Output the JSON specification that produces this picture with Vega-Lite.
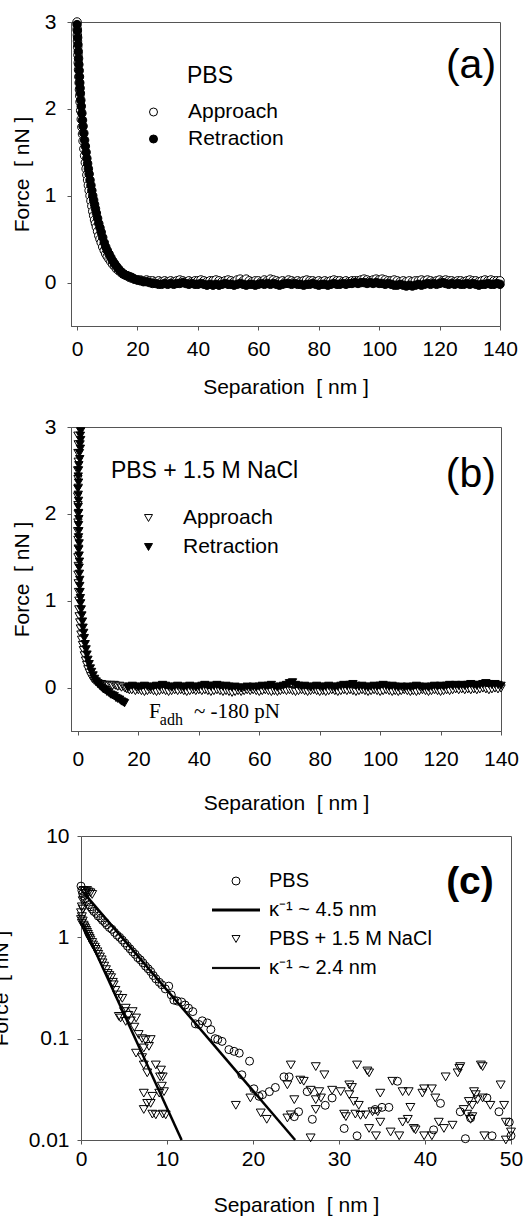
{
"$schema": "https://vega.github.io/schema/vega-lite/v6.json",
"padding": {"left": -10, "top": 10, "right": 0, "bottom": 0},
"background": "white",
"config": {
  "font": "Liberation Sans",
  "view": {"stroke": "#555", "strokeWidth": 1},
  "axis": {"grid": false, "domainColor": "#555", "tickColor": "#555", "tickSize": 4, "labelFontSize": 21, "titleFontSize": 21, "labelColor": "black", "titleColor": "black", "titleFontWeight": "normal", "labelFont": "Liberation Sans", "titleFont": "Liberation Sans", "labelFlush": false, "labelOverlap": false},
  "legend": {"labelFontSize": 21, "labelFont": "Liberation Sans", "labelColor": "black", "padding": 0, "labelLimit": 0}
},
"datasets": {
"aA": [{"x":0,"y":3.0},{"x":0.05,"y":2.92},{"x":0.1,"y":2.85},{"x":0.15,"y":2.78},{"x":0.2,"y":2.71},{"x":0.3,"y":2.62},{"x":0.4,"y":2.53},{"x":0.5,"y":2.45},{"x":0.6,"y":2.37},{"x":0.7,"y":2.3},{"x":0.8,"y":2.22},{"x":0.9,"y":2.15},{"x":1.0,"y":2.08},{"x":1.2,"y":1.98},{"x":1.4,"y":1.88},{"x":1.6,"y":1.79},{"x":1.8,"y":1.71},{"x":2.0,"y":1.63},{"x":2.25,"y":1.54},{"x":2.5,"y":1.46},{"x":2.75,"y":1.38},{"x":3.0,"y":1.31},{"x":3.25,"y":1.24},{"x":3.5,"y":1.18},{"x":3.75,"y":1.12},{"x":4.0,"y":1.06},{"x":4.3,"y":1.0},{"x":4.6,"y":0.94},{"x":4.9,"y":0.88},{"x":5.2,"y":0.82},{"x":5.5,"y":0.77},{"x":5.8,"y":0.72},{"x":6.1,"y":0.68},{"x":6.4,"y":0.64},{"x":6.8,"y":0.59},{"x":7.2,"y":0.54},{"x":7.6,"y":0.5},{"x":8.0,"y":0.46},{"x":8.5,"y":0.41},{"x":9.0,"y":0.37},{"x":9.5,"y":0.33},{"x":10.0,"y":0.3},{"x":10.6,"y":0.27},{"x":11.2,"y":0.24},{"x":11.8,"y":0.21},{"x":12.4,"y":0.19},{"x":13.0,"y":0.16},{"x":13.7,"y":0.14},{"x":14.4,"y":0.12},{"x":15.1,"y":0.1},{"x":15.8,"y":0.09},{"x":16.5,"y":0.08},{"x":17.3,"y":0.06},{"x":18.1,"y":0.05},{"x":19.0,"y":0.04},{"x":20.0,"y":0.03},
{"x":21,"y":0.03},{"x":22,"y":0.02},{"x":23,"y":0.03},{"x":24,"y":0.02},{"x":25,"y":0.02},{"x":26,"y":0.01},{"x":27,"y":0.02},{"x":28,"y":0.01},{"x":29,"y":0.02},{"x":30,"y":0.01},{"x":31,"y":0.02},{"x":32,"y":0.01},{"x":33,"y":0.02},{"x":34,"y":0.03},{"x":35,"y":0.02},{"x":36,"y":0.01},{"x":37,"y":0.02},{"x":38,"y":0.01},{"x":39,"y":0.02},{"x":40,"y":0.02},{"x":41,"y":0.03},{"x":42,"y":0.02},{"x":43,"y":0.01},{"x":44,"y":0.02},{"x":45,"y":0.02},{"x":46,"y":0.03},{"x":47,"y":0.02},{"x":48,"y":0.01},{"x":49,"y":0.02},{"x":50,"y":0.03},{"x":51,"y":0.02},{"x":52,"y":0.01},{"x":53,"y":0.03},{"x":54,"y":0.04},{"x":55,"y":0.02},{"x":56,"y":0.04},{"x":57,"y":0.02},{"x":58,"y":0.01},{"x":59,"y":0.02},{"x":60,"y":0.02},{"x":61,"y":0.01},{"x":62,"y":0.03},{"x":63,"y":0.02},{"x":64,"y":0.04},{"x":65,"y":0.03},{"x":66,"y":0.02},{"x":67,"y":0.01},{"x":68,"y":0.02},{"x":69,"y":0.01},{"x":70,"y":0.03},{"x":71,"y":0.02},{"x":72,"y":0.01},{"x":73,"y":0.02},{"x":74,"y":0.01},{"x":75,"y":0.02},{"x":76,"y":0.03},{"x":77,"y":0.02},{"x":78,"y":0.02},{"x":79,"y":0.01},{"x":80,"y":0.02},{"x":81,"y":0.01},{"x":82,"y":0.02},{"x":83,"y":0.01},{"x":84,"y":0.02},{"x":85,"y":0.03},{"x":86,"y":0.02},{"x":87,"y":0.02},{"x":88,"y":0.01},{"x":89,"y":0.02},{"x":90,"y":0.01},{"x":91,"y":0.02},{"x":92,"y":0.02},{"x":93,"y":0.02},{"x":94,"y":0.03},{"x":95,"y":0.04},{"x":96,"y":0.03},{"x":97,"y":0.02},{"x":98,"y":0.03},{"x":99,"y":0.04},{"x":100,"y":0.03},{"x":101,"y":0.04},{"x":102,"y":0.03},{"x":103,"y":0.02},{"x":104,"y":0.02},{"x":105,"y":0.03},{"x":106,"y":0.02},{"x":107,"y":0.01},{"x":108,"y":0.02},{"x":109,"y":0.01},{"x":110,"y":0.02},{"x":111,"y":0.01},{"x":112,"y":0.02},{"x":113,"y":0.02},{"x":114,"y":0.03},{"x":115,"y":0.02},{"x":116,"y":0.03},{"x":117,"y":0.02},{"x":118,"y":0.01},{"x":119,"y":0.02},{"x":120,"y":0.03},{"x":121,"y":0.02},{"x":122,"y":0.03},{"x":123,"y":0.02},{"x":124,"y":0.02},{"x":125,"y":0.01},{"x":126,"y":0.02},{"x":127,"y":0.02},{"x":128,"y":0.01},{"x":129,"y":0.02},{"x":130,"y":0.03},{"x":131,"y":0.02},{"x":132,"y":0.02},{"x":133,"y":0.01},{"x":134,"y":0.02},{"x":135,"y":0.03},{"x":136,"y":0.02},{"x":137,"y":0.03},{"x":138,"y":0.02},{"x":139,"y":0.02},{"x":140,"y":0.02}],
"aR": [{"x":0,"y":2.97},{"x":0.1,"y":2.9},{"x":0.2,"y":2.82},{"x":0.3,"y":2.74},{"x":0.4,"y":2.66},{"x":0.5,"y":2.58},{"x":0.6,"y":2.51},{"x":0.7,"y":2.44},{"x":0.8,"y":2.37},{"x":0.9,"y":2.3},{"x":1.0,"y":2.24},{"x":1.1,"y":2.18},{"x":1.25,"y":2.1},{"x":1.4,"y":2.03},{"x":1.6,"y":1.95},{"x":1.8,"y":1.87},{"x":2.0,"y":1.8},{"x":2.25,"y":1.72},{"x":2.5,"y":1.64},{"x":2.75,"y":1.57},{"x":3.0,"y":1.5},{"x":3.25,"y":1.43},{"x":3.5,"y":1.37},{"x":3.75,"y":1.31},{"x":4.0,"y":1.25},{"x":4.3,"y":1.18},{"x":4.6,"y":1.12},{"x":4.9,"y":1.06},{"x":5.2,"y":1.0},{"x":5.5,"y":0.95},{"x":5.8,"y":0.9},{"x":6.1,"y":0.85},{"x":6.4,"y":0.8},{"x":6.8,"y":0.74},{"x":7.2,"y":0.68},{"x":7.6,"y":0.63},{"x":8.0,"y":0.58},{"x":8.5,"y":0.52},{"x":9.0,"y":0.46},{"x":9.5,"y":0.41},{"x":10.0,"y":0.37},{"x":10.6,"y":0.33},{"x":11.2,"y":0.29},{"x":11.8,"y":0.25},{"x":12.4,"y":0.22},{"x":13.0,"y":0.19},{"x":13.7,"y":0.16},{"x":14.4,"y":0.13},{"x":15.1,"y":0.11},{"x":15.8,"y":0.09},{"x":16.5,"y":0.08},{"x":17.3,"y":0.07},{"x":18.1,"y":0.06},{"x":19.0,"y":0.04},{"x":20.0,"y":0.03},
{"x":21,"y":0.02},{"x":22,"y":0.01},{"x":23,"y":0.01},{"x":24,"y":0.0},{"x":25,"y":-0.01},{"x":26,"y":-0.01},{"x":27,"y":-0.02},{"x":28,"y":-0.02},{"x":29,"y":-0.01},{"x":30,"y":-0.02},{"x":31,"y":-0.01},{"x":32,"y":-0.02},{"x":33,"y":-0.01},{"x":34,"y":-0.01},{"x":35,"y":0.0},{"x":36,"y":-0.01},{"x":37,"y":-0.02},{"x":38,"y":-0.01},{"x":39,"y":-0.02},{"x":40,"y":-0.02},{"x":41,"y":-0.01},{"x":42,"y":-0.02},{"x":43,"y":-0.03},{"x":44,"y":-0.02},{"x":45,"y":-0.03},{"x":46,"y":-0.02},{"x":47,"y":-0.03},{"x":48,"y":-0.02},{"x":49,"y":-0.01},{"x":50,"y":-0.02},{"x":51,"y":-0.02},{"x":52,"y":-0.03},{"x":53,"y":-0.02},{"x":54,"y":-0.01},{"x":55,"y":-0.02},{"x":56,"y":-0.03},{"x":57,"y":-0.02},{"x":58,"y":-0.02},{"x":59,"y":-0.03},{"x":60,"y":-0.02},{"x":61,"y":-0.01},{"x":62,"y":-0.02},{"x":63,"y":-0.01},{"x":64,"y":-0.02},{"x":65,"y":-0.01},{"x":66,"y":-0.02},{"x":67,"y":-0.03},{"x":68,"y":-0.02},{"x":69,"y":-0.01},{"x":70,"y":-0.01},{"x":71,"y":-0.02},{"x":72,"y":-0.01},{"x":73,"y":-0.02},{"x":74,"y":-0.02},{"x":75,"y":-0.03},{"x":76,"y":-0.02},{"x":77,"y":-0.02},{"x":78,"y":-0.01},{"x":79,"y":-0.02},{"x":80,"y":-0.03},{"x":81,"y":-0.02},{"x":82,"y":-0.02},{"x":83,"y":-0.03},{"x":84,"y":-0.02},{"x":85,"y":-0.01},{"x":86,"y":-0.02},{"x":87,"y":-0.02},{"x":88,"y":-0.01},{"x":89,"y":-0.02},{"x":90,"y":-0.01},{"x":91,"y":-0.01},{"x":92,"y":0.0},{"x":93,"y":-0.01},{"x":94,"y":0.0},{"x":95,"y":0.0},{"x":96,"y":-0.01},{"x":97,"y":0.0},{"x":98,"y":-0.01},{"x":99,"y":0.0},{"x":100,"y":-0.01},{"x":101,"y":-0.01},{"x":102,"y":-0.02},{"x":103,"y":-0.01},{"x":104,"y":-0.02},{"x":105,"y":-0.03},{"x":106,"y":-0.03},{"x":107,"y":-0.02},{"x":108,"y":-0.03},{"x":109,"y":-0.04},{"x":110,"y":-0.03},{"x":111,"y":-0.04},{"x":112,"y":-0.03},{"x":113,"y":-0.02},{"x":114,"y":-0.03},{"x":115,"y":-0.02},{"x":116,"y":-0.01},{"x":117,"y":-0.02},{"x":118,"y":-0.01},{"x":119,"y":-0.02},{"x":120,"y":-0.01},{"x":121,"y":0.0},{"x":122,"y":-0.01},{"x":123,"y":-0.02},{"x":124,"y":-0.01},{"x":125,"y":-0.02},{"x":126,"y":-0.01},{"x":127,"y":-0.02},{"x":128,"y":-0.02},{"x":129,"y":-0.01},{"x":130,"y":-0.02},{"x":131,"y":-0.01},{"x":132,"y":-0.02},{"x":133,"y":-0.03},{"x":134,"y":-0.02},{"x":135,"y":-0.02},{"x":136,"y":-0.01},{"x":137,"y":-0.02},{"x":138,"y":-0.02},{"x":139,"y":-0.01},{"x":140,"y":-0.02}],
"bA": [{"x":0.0,"y":2.9},{"x":0.1,"y":2.8},{"x":0.0,"y":2.7},{"x":0.1,"y":2.6},{"x":-0.1,"y":2.5},{"x":0.0,"y":2.4},{"x":0.1,"y":2.3},{"x":-0.1,"y":2.2},{"x":0.0,"y":2.1},{"x":0.1,"y":2.0},{"x":0.0,"y":1.9},{"x":-0.1,"y":1.8},{"x":0.0,"y":1.7},{"x":0.1,"y":1.6},{"x":0.0,"y":1.5},{"x":0.1,"y":1.4},{"x":0.0,"y":1.3},{"x":0.1,"y":1.2},{"x":0.2,"y":1.1},{"x":0.3,"y":1.0},{"x":0.3,"y":0.9},{"x":0.4,"y":0.82},{"x":0.6,"y":0.75},{"x":0.8,"y":0.68},{"x":1.0,"y":0.61},{"x":1.2,"y":0.55},{"x":1.5,"y":0.49},{"x":1.8,"y":0.43},{"x":2.1,"y":0.37},{"x":2.5,"y":0.31},{"x":2.9,"y":0.26},{"x":3.3,"y":0.21},{"x":3.8,"y":0.17},{"x":4.3,"y":0.13},{"x":4.8,"y":0.1},{"x":5.4,"y":0.08},{"x":6.0,"y":0.06},{"x":6.6,"y":0.05},{"x":7.2,"y":0.04},{"x":7.8,"y":0.04},{"x":8.4,"y":0.03},{"x":9.0,"y":0.03},{"x":9.6,"y":0.03},{"x":10.2,"y":0.02},{"x":10.8,"y":0.03},{"x":11.4,"y":0.02},{"x":12.0,"y":0.03},{"x":12.6,"y":0.02},{"x":13.2,"y":0.01},{"x":13.8,"y":0.02},{"x":14.4,"y":0.0},{"x":15.0,"y":0.01},{"x":15.6,"y":-0.01},{"x":16.2,"y":-0.02},{"x":17.0,"y":-0.03},{"x":17.8,"y":-0.03},
{"x":19,"y":-0.04},{"x":20,"y":-0.03},{"x":21,"y":-0.04},{"x":22,"y":-0.05},{"x":23,"y":-0.04},{"x":24,"y":-0.03},{"x":25,"y":-0.04},{"x":26,"y":-0.05},{"x":27,"y":-0.04},{"x":28,"y":-0.03},{"x":29,"y":-0.04},{"x":30,"y":-0.05},{"x":31,"y":-0.04},{"x":32,"y":-0.03},{"x":33,"y":-0.04},{"x":34,"y":-0.03},{"x":35,"y":-0.04},{"x":36,"y":-0.05},{"x":37,"y":-0.04},{"x":38,"y":-0.03},{"x":39,"y":-0.04},{"x":40,"y":-0.03},{"x":41,"y":-0.04},{"x":42,"y":-0.03},{"x":43,"y":-0.04},{"x":44,"y":-0.05},{"x":45,"y":-0.04},{"x":46,"y":-0.03},{"x":47,"y":-0.04},{"x":48,"y":-0.05},{"x":49,"y":-0.04},{"x":50,"y":-0.05},{"x":51,"y":-0.06},{"x":52,"y":-0.05},{"x":53,"y":-0.04},{"x":54,"y":-0.05},{"x":55,"y":-0.04},{"x":56,"y":-0.03},{"x":57,"y":-0.04},{"x":58,"y":-0.03},{"x":59,"y":-0.04},{"x":60,"y":-0.05},{"x":61,"y":-0.04},{"x":62,"y":-0.03},{"x":63,"y":-0.04},{"x":64,"y":-0.05},{"x":65,"y":-0.04},{"x":66,"y":-0.05},{"x":67,"y":-0.04},{"x":68,"y":-0.03},{"x":69,"y":-0.04},{"x":70,"y":-0.03},{"x":71,"y":-0.04},{"x":72,"y":-0.05},{"x":73,"y":-0.04},{"x":74,"y":-0.03},{"x":75,"y":-0.04},{"x":76,"y":-0.05},{"x":77,"y":-0.04},{"x":78,"y":-0.03},{"x":79,"y":-0.04},{"x":80,"y":-0.05},{"x":81,"y":-0.04},{"x":82,"y":-0.05},{"x":83,"y":-0.04},{"x":84,"y":-0.03},{"x":85,"y":-0.04},{"x":86,"y":-0.05},{"x":87,"y":-0.04},{"x":88,"y":-0.03},{"x":89,"y":-0.04},{"x":90,"y":-0.03},{"x":91,"y":-0.04},{"x":92,"y":-0.05},{"x":93,"y":-0.04},{"x":94,"y":-0.03},{"x":95,"y":-0.04},{"x":96,"y":-0.05},{"x":97,"y":-0.04},{"x":98,"y":-0.03},{"x":99,"y":-0.04},{"x":100,"y":-0.05},{"x":101,"y":-0.04},{"x":102,"y":-0.03},{"x":103,"y":-0.04},{"x":104,"y":-0.05},{"x":105,"y":-0.04},{"x":106,"y":-0.05},{"x":107,"y":-0.04},{"x":108,"y":-0.03},{"x":109,"y":-0.04},{"x":110,"y":-0.05},{"x":111,"y":-0.04},{"x":112,"y":-0.05},{"x":113,"y":-0.04},{"x":114,"y":-0.03},{"x":115,"y":-0.04},{"x":116,"y":-0.05},{"x":117,"y":-0.04},{"x":118,"y":-0.03},{"x":119,"y":-0.04},{"x":120,"y":-0.05},{"x":121,"y":-0.04},{"x":122,"y":-0.03},{"x":123,"y":-0.04},{"x":124,"y":-0.03},{"x":125,"y":-0.02},{"x":126,"y":-0.03},{"x":127,"y":-0.02},{"x":128,"y":-0.03},{"x":129,"y":-0.02},{"x":130,"y":-0.03},{"x":131,"y":-0.02},{"x":132,"y":-0.03},{"x":133,"y":-0.02},{"x":134,"y":-0.01},{"x":135,"y":-0.02},{"x":136,"y":-0.03},{"x":137,"y":-0.02},{"x":138,"y":-0.01},{"x":139,"y":-0.02},{"x":140,"y":-0.01}],
"bR": [{"x":0.9,"y":2.95},{"x":0.8,"y":2.9},{"x":0.9,"y":2.85},{"x":0.7,"y":2.8},{"x":0.8,"y":2.75},{"x":0.5,"y":2.7},{"x":0.6,"y":2.63},{"x":0.3,"y":2.56},{"x":0.2,"y":2.5},{"x":0.1,"y":2.43},{"x":0.2,"y":2.36},{"x":0.0,"y":2.29},{"x":0.1,"y":2.22},{"x":0.2,"y":2.15},{"x":0.1,"y":2.08},{"x":0.2,"y":2.01},{"x":0.3,"y":1.94},{"x":0.2,"y":1.87},{"x":0.3,"y":1.8},{"x":0.2,"y":1.73},{"x":0.4,"y":1.66},{"x":0.3,"y":1.59},{"x":0.4,"y":1.52},{"x":0.5,"y":1.45},{"x":0.4,"y":1.38},{"x":0.5,"y":1.31},{"x":0.6,"y":1.24},{"x":0.6,"y":1.17},{"x":0.7,"y":1.1},{"x":0.8,"y":1.03},{"x":0.9,"y":0.97},{"x":1.1,"y":0.9},{"x":1.3,"y":0.83},{"x":1.5,"y":0.76},{"x":1.7,"y":0.69},{"x":1.9,"y":0.63},{"x":2.1,"y":0.57},{"x":2.4,"y":0.5},{"x":2.7,"y":0.44},{"x":3.0,"y":0.38},{"x":3.3,"y":0.32},{"x":3.7,"y":0.27},{"x":4.1,"y":0.22},{"x":4.5,"y":0.18},{"x":5.0,"y":0.14},{"x":5.5,"y":0.1},{"x":6.0,"y":0.07},{"x":6.6,"y":0.04},{"x":7.2,"y":0.02},{"x":7.8,"y":0.0},{"x":8.4,"y":-0.02},{"x":9.0,"y":-0.03},{"x":9.6,"y":-0.05},{"x":10.2,"y":-0.06},{"x":10.8,"y":-0.08},{"x":11.4,"y":-0.09},{"x":12.0,"y":-0.1},{"x":12.6,"y":-0.12},{"x":13.2,"y":-0.13},{"x":13.8,"y":-0.14},{"x":14.4,"y":-0.16},{"x":15.0,"y":-0.17},{"x":15.4,"y":-0.18},
{"x":16.5,"y":0.0},{"x":17,"y":0.01},{"x":18,"y":0.02},{"x":19,"y":0.01},{"x":20,"y":0.0},{"x":21,"y":0.01},{"x":22,"y":0.02},{"x":23,"y":0.01},{"x":24,"y":0.0},{"x":25,"y":0.01},{"x":26,"y":0.02},{"x":27,"y":0.01},{"x":28,"y":0.03},{"x":29,"y":0.02},{"x":30,"y":0.01},{"x":31,"y":0.0},{"x":32,"y":0.01},{"x":33,"y":0.02},{"x":34,"y":0.01},{"x":35,"y":0.0},{"x":36,"y":0.01},{"x":37,"y":0.02},{"x":38,"y":0.01},{"x":39,"y":0.0},{"x":40,"y":0.01},{"x":41,"y":0.02},{"x":42,"y":0.03},{"x":43,"y":0.02},{"x":44,"y":0.01},{"x":45,"y":0.02},{"x":46,"y":0.03},{"x":47,"y":0.02},{"x":48,"y":0.01},{"x":49,"y":0.02},{"x":50,"y":0.01},{"x":51,"y":0.0},{"x":52,"y":0.01},{"x":53,"y":0.0},{"x":54,"y":-0.01},{"x":55,"y":0.0},{"x":56,"y":0.01},{"x":57,"y":0.0},{"x":58,"y":0.01},{"x":59,"y":0.0},{"x":60,"y":0.01},{"x":61,"y":0.02},{"x":62,"y":0.01},{"x":63,"y":0.02},{"x":64,"y":0.03},{"x":65,"y":0.01},{"x":66,"y":0.0},{"x":67,"y":0.01},{"x":68,"y":0.02},{"x":69,"y":0.03},{"x":70,"y":0.05},{"x":71,"y":0.06},{"x":72,"y":0.03},{"x":73,"y":0.02},{"x":74,"y":0.01},{"x":75,"y":0.02},{"x":76,"y":0.01},{"x":77,"y":0.0},{"x":78,"y":0.01},{"x":79,"y":0.02},{"x":80,"y":0.01},{"x":81,"y":0.0},{"x":82,"y":0.01},{"x":83,"y":0.02},{"x":84,"y":0.01},{"x":85,"y":0.0},{"x":86,"y":0.01},{"x":87,"y":0.02},{"x":88,"y":0.03},{"x":89,"y":0.02},{"x":90,"y":0.03},{"x":91,"y":0.04},{"x":92,"y":0.02},{"x":93,"y":0.01},{"x":94,"y":0.02},{"x":95,"y":0.01},{"x":96,"y":0.0},{"x":97,"y":0.01},{"x":98,"y":0.02},{"x":99,"y":0.01},{"x":100,"y":0.02},{"x":101,"y":0.03},{"x":102,"y":0.02},{"x":103,"y":0.01},{"x":104,"y":0.02},{"x":105,"y":0.01},{"x":106,"y":0.0},{"x":107,"y":0.01},{"x":108,"y":0.0},{"x":109,"y":0.01},{"x":110,"y":0.0},{"x":111,"y":0.01},{"x":112,"y":0.02},{"x":113,"y":0.01},{"x":114,"y":0.0},{"x":115,"y":0.01},{"x":116,"y":0.0},{"x":117,"y":0.01},{"x":118,"y":0.02},{"x":119,"y":0.01},{"x":120,"y":0.02},{"x":121,"y":0.01},{"x":122,"y":0.02},{"x":123,"y":0.03},{"x":124,"y":0.02},{"x":125,"y":0.03},{"x":126,"y":0.02},{"x":127,"y":0.03},{"x":128,"y":0.02},{"x":129,"y":0.03},{"x":130,"y":0.04},{"x":131,"y":0.03},{"x":132,"y":0.02},{"x":133,"y":0.03},{"x":134,"y":0.04},{"x":135,"y":0.05},{"x":136,"y":0.04},{"x":137,"y":0.03},{"x":138,"y":0.04},{"x":139,"y":0.03},{"x":140,"y":0.02}],
"cP": [{"x":0,"y":3.2},{"x":0.1,"y":2.9},{"x":0.2,"y":2.7},{"x":0.3,"y":2.55},{"x":0.5,"y":2.4},{"x":0.7,"y":2.25},{"x":0.9,"y":2.1},{"x":1.1,"y":2.0},{"x":1.3,"y":1.9},{"x":1.5,"y":1.8},{"x":1.8,"y":1.72},{"x":2.0,"y":1.62},{"x":2.3,"y":1.55},{"x":2.5,"y":1.47},{"x":2.8,"y":1.4},{"x":3.0,"y":1.33},{"x":3.3,"y":1.25},{"x":3.6,"y":1.2},{"x":3.9,"y":1.12},{"x":4.2,"y":1.05},{"x":4.5,"y":1.0},{"x":4.8,"y":0.94},{"x":5.1,"y":0.88},{"x":5.4,"y":0.82},{"x":5.7,"y":0.77},{"x":6.0,"y":0.72},{"x":6.3,"y":0.68},{"x":6.6,"y":0.63},{"x":6.9,"y":0.6},{"x":7.2,"y":0.56},{"x":7.5,"y":0.52},{"x":7.8,"y":0.49},{"x":8.1,"y":0.46},{"x":8.4,"y":0.42},{"x":8.7,"y":0.39},{"x":9.1,"y":0.36},{"x":9.4,"y":0.34},{"x":9.8,"y":0.31},{"x":10.2,"y":0.33},{"x":10.5,"y":0.27},{"x":10.8,"y":0.24},{"x":11.2,"y":0.235},{"x":11.7,"y":0.23},{"x":12.1,"y":0.215},{"x":12.5,"y":0.2},{"x":13.0,"y":0.185},{"x":13.3,"y":0.14},{"x":13.7,"y":0.138},{"x":14.1,"y":0.15},{"x":14.7,"y":0.143},{"x":15.1,"y":0.123},{"x":15.6,"y":0.1},{"x":15.9,"y":0.098},{"x":16.4,"y":0.094},{"x":17.2,"y":0.078},{"x":17.8,"y":0.075},{"x":18.4,"y":0.072},{"x":18.7,"y":0.044},{"x":19.6,"y":0.06},{"x":20.1,"y":0.032},{"x":20.7,"y":0.027},{"x":21.1,"y":0.028},{"x":21.9,"y":0.03},{"x":22.6,"y":0.033},{"x":23.6,"y":0.042},{"x":24.2,"y":0.042},{"x":24.8,"y":0.017},{"x":25.3,"y":0.019},{"x":26.3,"y":0.03},{"x":26.9,"y":0.016},{"x":28.4,"y":0.022},{"x":29.2,"y":0.026},{"x":30.6,"y":0.013},{"x":32.1,"y":0.011},{"x":34.2,"y":0.02},{"x":35.0,"y":0.021},{"x":35.8,"y":0.021},{"x":36.8,"y":0.038},{"x":41.0,"y":0.0126},{"x":41.8,"y":0.023},{"x":44.1,"y":0.019},{"x":44.7,"y":0.0103},{"x":45.3,"y":0.0165},{"x":47.2,"y":0.026},{"x":47.8,"y":0.011},{"x":48.6,"y":0.019},{"x":49.8,"y":0.015},{"x":50,"y":0.011}],
"cN": [{"x":0.3,"y":2.9},{"x":0.5,"y":2.85},{"x":0.7,"y":2.9},{"x":0.9,"y":2.8},{"x":1.1,"y":2.75},{"x":0.6,"y":2.7},{"x":1.3,"y":2.65},{"x":0.2,"y":2.3},{"x":0.1,"y":2.0},{"x":0.2,"y":1.9},{"x":0.0,"y":1.75},{"x":0.1,"y":1.6},{"x":0.0,"y":1.5},{"x":0.2,"y":1.45},{"x":0.1,"y":1.38},{"x":0.3,"y":1.32},{"x":0.4,"y":1.27},{"x":0.5,"y":1.22},{"x":0.6,"y":1.17},{"x":0.7,"y":1.12},{"x":0.8,"y":1.07},{"x":0.9,"y":1.02},{"x":1.0,"y":0.98},{"x":1.1,"y":0.94},{"x":1.3,"y":0.89},{"x":1.4,"y":0.84},{"x":1.6,"y":0.8},{"x":1.7,"y":0.76},{"x":1.9,"y":0.72},{"x":2.0,"y":0.68},{"x":2.2,"y":0.64},{"x":2.4,"y":0.6},{"x":2.5,"y":0.56},{"x":2.7,"y":0.52},{"x":2.9,"y":0.48},{"x":3.1,"y":0.44},{"x":3.3,"y":0.42},{"x":3.5,"y":0.4},{"x":3.7,"y":0.36},{"x":3.8,"y":0.34},{"x":4.0,"y":0.3},{"x":4.2,"y":0.27},{"x":4.4,"y":0.25},{"x":4.8,"y":0.25},{"x":4.4,"y":0.166},{"x":4.6,"y":0.16},{"x":5.0,"y":0.185},{"x":5.2,"y":0.2},{"x":5.2,"y":0.148},{"x":5.5,"y":0.17},{"x":5.8,"y":0.15},{"x":6.0,"y":0.185},{"x":6.2,"y":0.13},{"x":6.4,"y":0.16},{"x":6.4,"y":0.072},{"x":6.7,"y":0.11},{"x":7.1,"y":0.1},{"x":7.5,"y":0.097},{"x":7.3,"y":0.081},{"x":7.1,"y":0.065},{"x":7.3,"y":0.055},{"x":7.7,"y":0.046},{"x":7.9,"y":0.084},{"x":8.1,"y":0.098},{"x":8.7,"y":0.055},{"x":9.2,"y":0.042},{"x":9.3,"y":0.049},{"x":9.5,"y":0.042},{"x":9.4,"y":0.034},{"x":9.65,"y":0.03},{"x":9.1,"y":0.029},{"x":8.3,"y":0.027},{"x":8.1,"y":0.023},{"x":7.3,"y":0.029},{"x":7.7,"y":0.023},{"x":7.3,"y":0.02},{"x":8.3,"y":0.018},{"x":8.7,"y":0.0177},{"x":9.5,"y":0.018},{"x":9.85,"y":0.0177},
{"x":18.0,"y":0.022},{"x":19.7,"y":0.026},{"x":20.9,"y":0.0185},{"x":21.6,"y":0.016},{"x":24.0,"y":0.035},{"x":24.4,"y":0.055},{"x":24.8,"y":0.025},{"x":24.4,"y":0.0177},{"x":24.0,"y":0.0165},{"x":25.5,"y":0.039},{"x":25.9,"y":0.038},{"x":26.7,"y":0.0105},{"x":27.3,"y":0.053},{"x":28.3,"y":0.044},{"x":26.7,"y":0.031},{"x":27.7,"y":0.03},{"x":27.3,"y":0.025},{"x":27.9,"y":0.026},{"x":27.3,"y":0.02},{"x":29.2,"y":0.031},{"x":30.2,"y":0.03},{"x":31.2,"y":0.035},{"x":31.5,"y":0.033},{"x":32.1,"y":0.055},{"x":33.3,"y":0.048},{"x":33.5,"y":0.046},{"x":31.2,"y":0.028},{"x":31.7,"y":0.024},{"x":32.3,"y":0.022},{"x":30.6,"y":0.018},{"x":30.8,"y":0.017},{"x":31.9,"y":0.018},{"x":32.5,"y":0.0175},{"x":33.1,"y":0.0177},{"x":33.9,"y":0.019},{"x":34.5,"y":0.019},{"x":33.5,"y":0.013},{"x":34.3,"y":0.011},{"x":34.8,"y":0.029},{"x":34.8,"y":0.015},{"x":36.2,"y":0.038},{"x":37.4,"y":0.03},{"x":38.1,"y":0.03},{"x":39.7,"y":0.029},{"x":39.9,"y":0.032},{"x":40.8,"y":0.032},{"x":41.2,"y":0.026},{"x":38.3,"y":0.021},{"x":37.4,"y":0.015},{"x":38.0,"y":0.016},{"x":36.0,"y":0.012},{"x":37.0,"y":0.011},{"x":38.7,"y":0.013},{"x":38.9,"y":0.0126},{"x":39.9,"y":0.011},{"x":40.8,"y":0.011},{"x":41.6,"y":0.015},{"x":42.2,"y":0.013},{"x":43.2,"y":0.014},{"x":42.4,"y":0.042},{"x":43.8,"y":0.046},{"x":44.0,"y":0.051},{"x":44.1,"y":0.053},{"x":46.5,"y":0.055},{"x":46.7,"y":0.053},{"x":48.8,"y":0.035},{"x":45.7,"y":0.03},{"x":45.9,"y":0.028},{"x":45.1,"y":0.024},{"x":45.5,"y":0.022},{"x":46.1,"y":0.025},{"x":46.7,"y":0.026},{"x":44.5,"y":0.02},{"x":44.9,"y":0.018},{"x":45.3,"y":0.016},{"x":45.5,"y":0.017},{"x":47.6,"y":0.022},{"x":49.2,"y":0.022},{"x":49.4,"y":0.015},{"x":46.9,"y":0.011},{"x":49.4,"y":0.01},{"x":50,"y":0.012}],
"cL1": [{"x":0.4,"y":2.7},{"x":24.9,"y":0.01}],
"cL2": [{"x":0.15,"y":1.39},{"x":11.7,"y":0.01}]
},
"spacing": 17,
"resolve": {"scale": {"fill": "independent", "shape": "independent"}, "legend": {"fill": "independent", "shape": "independent"}},
"vconcat": [
{
  "width": 429, "height": 304,
  "layer": [
    {"data": {"name": "aA"},
     "mark": {"type": "point", "shape": "circle", "size": 72, "stroke": "black", "strokeWidth": 1, "opacity": 1},
     "encoding": {
       "x": {"field": "x", "type": "quantitative", "scale": {"domain": [-2, 140], "nice": false, "zero": false}, "axis": {"values": [0,20,40,60,80,100,120,140], "title": "Separation\u00a0\u00a0[ nm ]", "labelPadding": 8, "titlePadding": 17.5}},
       "y": {"field": "y", "type": "quantitative", "scale": {"domain": [-0.5, 3], "nice": false, "zero": false}, "axis": {"values": [0,1,2,3], "format": "~g", "title": "Force\u00a0\u00a0[ nN ]", "labelPadding": 11, "titlePadding": 12}},
       "fill": {"datum": "Approach", "type": "nominal", "scale": {"domain": ["Approach", "Retraction"], "range": ["white", "black"]},
         "legend": {"orient": "none", "legendX": 72, "legendY": 79.5, "title": null, "direction": "vertical", "symbolType": "circle", "symbolSize": 64, "symbolStrokeColor": "black", "symbolStrokeWidth": 1, "labelOffset": 24, "rowPadding": 5, "labelFontSize": 21}}
     }},
    {"data": {"name": "aR"},
     "mark": {"type": "point", "shape": "circle", "size": 72, "stroke": "black", "strokeWidth": 1, "opacity": 1},
     "encoding": {
       "x": {"field": "x", "type": "quantitative"},
       "y": {"field": "y", "type": "quantitative"},
       "fill": {"datum": "Retraction", "type": "nominal"}
     }},
    {"data": {"values": [{}]},
     "mark": {"type": "text", "text": "PBS", "fontSize": 23, "align": "left", "baseline": "alphabetic", "color": "black"},
     "encoding": {"x": {"datum": 36.4}, "y": {"datum": 2.298}}},
    {"data": {"values": [{}]},
     "mark": {"type": "text", "text": "(a)", "fontSize": 41, "align": "right", "baseline": "alphabetic", "color": "black"},
     "encoding": {"x": {"datum": 138.7}, "y": {"datum": 2.355}}}
  ]
},
{
  "spacing": 11,
  "resolve": {"scale": {"fill": "independent", "shape": "independent"}, "legend": {"fill": "independent", "shape": "independent"}},
  "vconcat": [
  {
    "width": 430, "height": 304,
    "layer": [
      {"data": {"name": "bA"},
       "mark": {"type": "point", "shape": "triangle-down", "size": 70, "stroke": "black", "strokeWidth": 1, "opacity": 1},
       "encoding": {
         "x": {"field": "x", "type": "quantitative", "scale": {"domain": [-2.3, 140], "nice": false, "zero": false}, "axis": {"values": [0,20,40,60,80,100,120,140], "title": "Separation\u00a0\u00a0[ nm ]", "labelPadding": 13, "titlePadding": 23.5}},
         "y": {"field": "y", "type": "quantitative", "scale": {"domain": [-0.5, 3], "nice": false, "zero": false}, "axis": {"values": [0,1,2,3], "format": "~g", "title": "Force\u00a0\u00a0[ nN ]", "labelPadding": 11, "titlePadding": 12}},
         "fill": {"datum": "Approach", "type": "nominal", "scale": {"domain": ["Approach", "Retraction"], "range": ["white", "black"]},
           "legend": {"orient": "none", "legendX": 67, "legendY": 80.5, "title": null, "direction": "vertical", "symbolType": "triangle-down", "symbolSize": 64, "symbolStrokeColor": "black", "symbolStrokeWidth": 1, "labelOffset": 24, "rowPadding": 7, "labelFontSize": 21}}
       }},
      {"data": {"name": "bR"},
       "mark": {"type": "point", "shape": "triangle-down", "size": 70, "stroke": "black", "strokeWidth": 1, "opacity": 1},
       "encoding": {
         "x": {"field": "x", "type": "quantitative"},
         "y": {"field": "y", "type": "quantitative"},
         "fill": {"datum": "Retraction", "type": "nominal"}
       }},
      {"data": {"values": [{}]},
       "mark": {"type": "text", "text": "PBS + 1.5 M NaCl", "fontSize": 23, "align": "left", "baseline": "alphabetic", "color": "black"},
       "encoding": {"x": {"datum": 10.9}, "y": {"datum": 2.41}}},
      {"data": {"values": [{}]},
       "mark": {"type": "text", "text": "(b)", "fontSize": 41, "align": "right", "baseline": "alphabetic", "color": "black"},
       "encoding": {"x": {"datum": 138.3}, "y": {"datum": 2.313}}},
      {"data": {"values": [{}]},
       "mark": {"type": "text", "text": "F", "font": "Liberation Serif", "fontSize": 21, "align": "left", "baseline": "alphabetic", "color": "black"},
       "encoding": {"x": {"datum": 23.5}, "y": {"datum": -0.353}}},
      {"data": {"values": [{}]},
       "mark": {"type": "text", "text": "adh", "font": "Liberation Serif", "fontSize": 16, "align": "left", "baseline": "alphabetic", "color": "black"},
       "encoding": {"x": {"datum": 27.1}, "y": {"datum": -0.43}}},
      {"data": {"values": [{}]},
       "mark": {"type": "text", "text": "~ -180 pN", "font": "Liberation Serif", "fontSize": 21, "align": "left", "baseline": "alphabetic", "color": "black"},
       "encoding": {"x": {"datum": 38.4}, "y": {"datum": -0.353}}}
    ]
  },
  {
    "width": 440, "height": 304,
    "view": {"stroke": null},
    "resolve": {"axis": {"x": "independent", "y": "independent"}},
    "layer": [
      {"data": {"name": "cP"},
       "mark": {"type": "point", "shape": "circle", "size": 64, "stroke": "black", "strokeWidth": 1, "fill": "transparent", "opacity": 1},
       "encoding": {
         "x": {"field": "x", "type": "quantitative", "scale": {"domain": [0, 50], "range": [10, 440], "nice": false, "zero": false}, "axis": {"values": [0,10,20,30,40,50], "title": "Separation\u00a0\u00a0[ nm ]", "labelPadding": 4.5, "titlePadding": 25}},
         "y": {"field": "y", "type": "quantitative", "scale": {"type": "log", "domain": [0.01, 10], "nice": false}, "axis": {"values": [0.01, 0.1, 1, 10], "format": "~g", "offset": -10, "labelPadding": 8, "titlePadding": 17, "title": "Force\u00a0\u00a0[ nN ]"}},
         "shape": {"datum": "PBS", "type": "nominal", "scale": {"domain": ["PBS", "κ⁻¹ ~ 4.5 nm", "PBS + 1.5 M NaCl", "κ⁻¹ ~ 2.4 nm"], "range": ["circle", "M-6,0H6M-6,0.25H6M-6,-0.25H6M-6,0.12H6M-6,-0.12H6", "triangle-down", "M-6,0H6M-6,0.15H6M-6,-0.15H6"]},
           "legend": {"orient": "none", "legendX": 155, "legendY": 35, "title": null, "direction": "vertical", "symbolSize": 64, "symbolStrokeColor": "black", "symbolFillColor": "transparent", "symbolStrokeWidth": 1, "labelOffset": 23, "rowPadding": 9, "labelFontSize": 20, "labelLimit": 0}}
       }},
      {"data": {"name": "cN"},
       "mark": {"type": "point", "size": 80, "stroke": "black", "strokeWidth": 1, "fill": "transparent", "opacity": 1},
       "encoding": {
         "x": {"field": "x", "type": "quantitative", "axis": null},
         "y": {"field": "y", "type": "quantitative", "axis": null},
         "shape": {"datum": "PBS + 1.5 M NaCl", "type": "nominal"}
       }},
      {"data": {"name": "cL1"},
       "mark": {"type": "line", "color": "black", "strokeWidth": 2.5},
       "encoding": {
         "x": {"field": "x", "type": "quantitative", "axis": null},
         "y": {"field": "y", "type": "quantitative", "axis": null}
       }},
      {"data": {"name": "cL2"},
       "mark": {"type": "line", "color": "black", "strokeWidth": 2.5},
       "encoding": {
         "x": {"field": "x", "type": "quantitative", "axis": {"orient": "top", "ticks": false, "labels": false, "title": null, "domain": true}},
         "y": {"field": "y", "type": "quantitative", "axis": {"orient": "right", "ticks": false, "labels": false, "title": null, "domain": true}}
       }},
      {"data": {"values": [{}]},
       "mark": {"type": "text", "text": "(c)", "fontSize": 39, "fontWeight": "bold", "align": "right", "baseline": "alphabetic", "color": "black"},
       "encoding": {"x": {"datum": 48.0, "axis": null}, "y": {"datum": 2.68, "axis": null}}}
    ]
  }
  ]
}
]
}
